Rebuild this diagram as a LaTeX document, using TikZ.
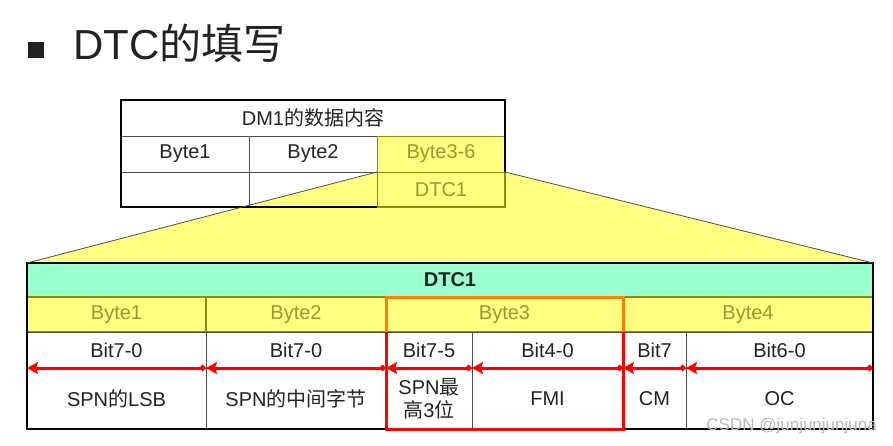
\documentclass[tikz,border=0pt]{standalone}
\usepackage{fontspec}
\setmainfont{Liberation Sans}
\newfontfamily\zhfont{Noto Sans CJK SC}
\newcommand{\zh}[1]{{\zhfont #1}}
\usepackage{xcolor}
\usetikzlibrary{positioning,arrows.meta,backgrounds}
\definecolor{ink}{HTML}{222222}
\definecolor{hlyellow}{HTML}{FFFF80}
\definecolor{bytetext}{HTML}{999933}
\definecolor{olivedraw}{HTML}{8C8C10}
\definecolor{mint}{HTML}{99FFCC}
\definecolor{hlorange}{HTML}{FF8000}
\definecolor{hlred}{HTML}{FF0000}
\tikzset{
    cell/.style={rectangle, draw=ink!80, line width=0.8pt, inner sep=0pt, outer sep=0pt, anchor=north west, align=center, text=ink, font=\fontsize{20}{23}\selectfont},
    bytecell/.style={cell, fill=hlyellow, draw=olivedraw, line width=1.6pt, text=bytetext},
    headcell/.style={cell, fill=mint, font=\fontsize{20}{22}\selectfont\bfseries},
    frame/.style={draw=black, line width=2.6pt},
    fan/.style={draw=ink!80, line width=0.8pt},
    bitarrow/.style={{Diamond[length=7pt,width=7pt]}-{Stealth[length=11pt,width=12pt,inset=2pt]}, draw=hlred, line width=3pt},
    hlbox/.style={line width=3pt, line join=miter}
}
\begin{document}
\begin{tikzpicture}[x=1pt, y=-1pt]
\useasboundingbox (0,0) rectangle (893,446);

% title
\node[fill=ink, minimum size=16pt, inner sep=0pt, anchor=north west] (bullet) at (28,42) {};
\node[anchor=base west, inner sep=0pt, text=ink, font=\fontsize{42}{44}\selectfont] (title) at (73,60) {DTC\zh{的填写}};

% DM1 table
\node[cell, minimum width=384, minimum height=36] (dmhead) at (121,100) {DM1\zh{的数据内容}};
\node[cell, minimum width=128, minimum height=36] (dmbyteA) at (dmhead.south west) {Byte1};
\node[cell, minimum width=128, minimum height=36, right=0pt of dmbyteA] (dmbyteB) {Byte2};
\node[bytecell, line width=0.8pt, minimum width=128, minimum height=36, right=0pt of dmbyteB] (dmbyteC) {Byte3-6};
\node[cell, minimum width=128, minimum height=35] (dmemptyA) at (dmbyteA.south west) {};
\node[cell, minimum width=128, minimum height=35, right=0pt of dmemptyA] (dmemptyB) {};
\node[bytecell, line width=0.8pt, minimum width=128, minimum height=35, right=0pt of dmemptyB] (dmdtc) {DTC1};
\draw[frame] (dmhead.north west) rectangle (dmdtc.south east);
\draw[draw=olivedraw, line width=2.6pt] (dmdtc.south west) -- (dmdtc.south east) -- (dmdtc.north east);

% DTC1 table
\node[headcell, minimum width=846, minimum height=34] (dtchead) at (27,263) {DTC1};
\node[bytecell, minimum width=179, minimum height=35] (byteA) at (dtchead.south west) {Byte1};
\node[bytecell, minimum width=180, minimum height=35, right=0pt of byteA] (byteB) {Byte2};
\node[bytecell, minimum width=237, minimum height=35, right=0pt of byteB] (byteC) {Byte3};
\node[bytecell, minimum width=250, minimum height=35, right=0pt of byteC] (byteD) {Byte4};

\node[cell, minimum width=179, minimum height=36] (bitA) at (byteA.south west) {Bit7-0};
\node[cell, minimum width=180, minimum height=36, right=0pt of bitA] (bitB) {Bit7-0};
\node[cell, minimum width=86, minimum height=36, right=0pt of bitB] (bitC) {Bit7-5};
\node[cell, minimum width=151, minimum height=36, right=0pt of bitC] (bitD) {Bit4-0};
\node[cell, minimum width=63, minimum height=36, right=0pt of bitD] (bitE) {Bit7};
\node[cell, minimum width=187, minimum height=36, right=0pt of bitE] (bitF) {Bit6-0};

\node[cell, minimum width=179, minimum height=61] (nameA) at (bitA.south west) {SPN\zh{的}LSB};
\node[cell, minimum width=180, minimum height=61, right=0pt of nameA] (nameB) {SPN\zh{的中间字节}};
\node[cell, minimum width=86, minimum height=61, right=0pt of nameB] (nameC) {SPN\zh{最}\\\zh{高}3\zh{位}};
\node[cell, minimum width=151, minimum height=61, right=0pt of nameC] (nameD) {FMI};
\node[cell, minimum width=63, minimum height=61, right=0pt of nameD] (nameE) {CM};
\node[cell, minimum width=187, minimum height=61, right=0pt of nameE] (nameF) {OC};
\draw[frame] (dtchead.north west) rectangle (nameF.south east);

% zoom fan
\begin{pgfonlayer}{background}
\fill[hlyellow] (dmdtc.north west) -- (dmdtc.north east) -- (dtchead.north east) -- (dtchead.north west) -- cycle;
\end{pgfonlayer}
\draw[fan] (dmdtc.north west) -- (dtchead.north west);
\draw[fan] (dmdtc.north east) -- (dtchead.north east);

% Byte3 highlight
\draw[hlbox, draw=hlorange] (byteC.south west) -- (byteC.north west) -- (byteC.north east) -- (byteC.south east);
\draw[hlbox, draw=hlred] (byteC.south west) -- (nameC.south west) -- (nameD.south east) -- (byteC.south east);

% bit order arrows
\foreach \c in {A,B,C,D,E,F}
    \draw[bitarrow] (bit\c.south east) -- (bit\c.south west);

\node[anchor=east, inner sep=0pt, text=gray!55, font=\fontsize{17}{18}\selectfont] (mark) at (877,426) {CSDN @junjunjunjuna};

\end{tikzpicture}
\end{document}
